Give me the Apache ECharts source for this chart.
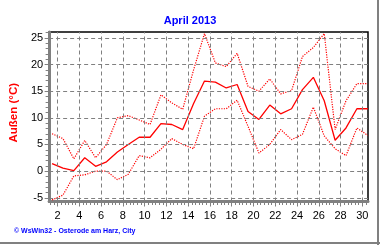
<!DOCTYPE html>
<html><head><meta charset="utf-8">
<script src="https://cdn.jsdelivr.net/npm/echarts@6/dist/echarts.min.js"></script>
<style>html,body{margin:0;padding:0;background:#fff}#c{width:380px;height:245px}</style>
</head><body><div id="c"></div>
<script>
const days = [1,2,3,4,5,6,7,8,9,10,11,12,13,14,15,16,17,18,19,20,21,22,23,24,25,26,27,28,29,30];
const tempMax = [7.0,6.1,2.3,5.75,2.5,5.0,10.0,10.4,9.6,8.75,14.3,12.8,11.6,19.0,25.8,20.3,19.6,22.1,15.9,15.0,17.3,14.5,15.1,21.5,23.2,25.8,7.8,13.2,16.4,16.4];
const tempAvg = [1.4,0.55,0.1,2.5,0.9,1.75,3.6,5.0,6.35,6.35,8.9,8.75,7.8,12.7,16.9,16.7,15.6,16.25,11.2,9.7,12.4,10.75,11.7,15.3,17.6,13.2,5.8,8.1,11.7,11.7];
const tempMin = [-5.4,-4.5,-0.9,-0.7,0.0,0.0,-1.6,-0.6,2.9,2.5,4.1,6.1,5.0,4.2,10.3,11.7,11.7,13.3,8.4,3.4,5.0,7.8,5.9,6.9,12.0,6.6,4.2,2.9,8.1,6.7];
const xTickLabels = [2,4,6,8,10,12,14,16,18,20,22,24,26,28,30];
const yTickLabels = [-5,0,5,10,15,20,25];
const titleText = 'April 2013';
const yAxisName = 'Außen (°C)';
const footerText = '© WsWin32 - Osterode am Harz, City';

// daily values are plotted in the middle of each day
const pairs = arr => days.map((d, i) => [d + 0.5, arr[i]]);
const minorX = []; for (let k = 4; k <= 91; k++) minorX.push(k / 3);
const minorY = []; for (let v = -5; v <= 26; v++) minorY.push(v);

const XMIN = 1.23, XMAX = 30.52, YMIN = -5.7, YMAX = 26.1;
const gray = '#808080';
const font = 'Liberation Sans';

const gridLines = xTickLabels.map(v => ({xAxis: v})).concat(yTickLabels.map(v => ({yAxis: v})));

const chart = echarts.init(document.getElementById('c'), null, {renderer: 'canvas'});
chart.setOption({
  animation: false,
  backgroundColor: '#fff',
  title: {text: titleText, left: 'center', top: 10,
    textStyle: {color: '#0000ff', fontSize: 11, fontWeight: 'bold', fontFamily: font}},
  grid: {left: 46, right: 12, top: 32, bottom: 43.5, show: true, borderColor: '#000', borderWidth: 1.5, backgroundColor: 'transparent'},
  xAxis: [
    {type: 'value', min: XMIN, max: XMAX, position: 'bottom',
      axisLine: {show: true, onZero: false, lineStyle: {color: gray, width: 3}},
      axisTick: {show: true, customValues: xTickLabels, length: 5, lineStyle: {color: gray}},
      axisLabel: {customValues: xTickLabels, color: '#000', fontSize: 11, fontFamily: font, margin: 9},
      splitLine: {show: false}},
    {type: 'value', min: XMIN, max: XMAX, position: 'bottom',
      axisLine: {show: false, onZero: false},
      axisTick: {show: true, customValues: minorX, length: 3.5, lineStyle: {color: gray}},
      axisLabel: {show: false}, splitLine: {show: false}}
  ],
  yAxis: [
    {type: 'value', min: YMIN, max: YMAX, position: 'left',
      name: yAxisName, nameLocation: 'middle', nameGap: 25, nameRotate: 90,
      nameTextStyle: {color: '#ff0000', fontWeight: 'bold', fontSize: 11.5, fontFamily: font, padding: [0, 0, 0, 8]},
      axisLine: {show: true, onZero: false, lineStyle: {color: gray, width: 3}},
      axisTick: {show: true, customValues: yTickLabels, length: 4.5, lineStyle: {color: gray}},
      axisLabel: {customValues: yTickLabels, color: '#000', fontSize: 11, fontFamily: font, margin: 6},
      splitLine: {show: false}},
    {type: 'value', min: YMIN, max: YMAX, position: 'left',
      axisLine: {show: false, onZero: false},
      axisTick: {show: true, customValues: minorY, length: 3.5, lineStyle: {color: gray}},
      axisLabel: {show: false}, splitLine: {show: false}}
  ],
  series: [
    {name: 'grid', type: 'line', data: [], z: 1, silent: true,
      markLine: {silent: true, symbol: 'none', label: {show: false}, animation: false,
        lineStyle: {color: gray, width: 1, type: [4, 3]}, emphasis: {disabled: true},
        data: gridLines}},
    {name: 'max', type: 'line', data: pairs(tempMax), showSymbol: false, silent: true, z: 3,
      lineStyle: {color: '#ff0000', width: 1.2, type: [1.2, 1.3]}},
    {name: 'avg', type: 'line', data: pairs(tempAvg), showSymbol: false, silent: true, z: 3,
      lineStyle: {color: '#ff0000', width: 1.3}},
    {name: 'min', type: 'line', data: pairs(tempMin), showSymbol: false, silent: true, z: 3,
      lineStyle: {color: '#ff0000', width: 1.2, type: [1.2, 1.3]}}
  ],
  graphic: [
    {type: 'text', left: 14, top: 228, style: {text: footerText, fill: '#0000ff', font: 'bold 7px "Liberation Sans"'}},
    {type: 'rect', shape: {x: 377, y: 0, width: 2, height: 245}, style: {fill: gray}},
    {type: 'rect', shape: {x: 0, y: 242, width: 380, height: 2}, style: {fill: gray}}
  ]
});
</script></body></html>
